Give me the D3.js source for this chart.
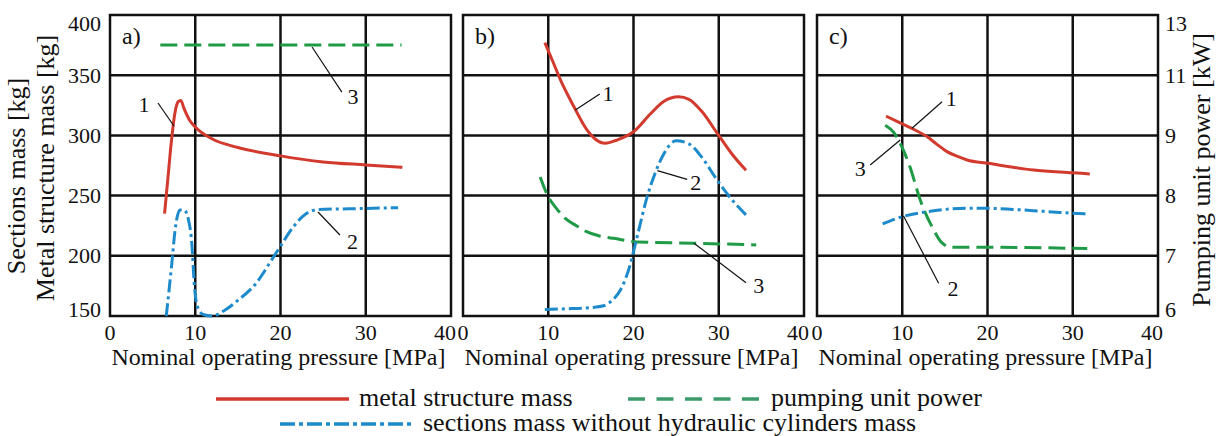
<!DOCTYPE html>
<head>
  <meta charset="utf-8">
  <script src="https://d3js.org/d3.v7.min.js"></script>
  <style>
    body { margin:0; background:#fff; }
    .grid line, .frame { stroke:#111; stroke-width:2.5; fill:none; }
    .curve { fill:none; stroke-width:3; stroke-linecap:butt; }
    .metal { stroke:#d23a2e; }
    .sections { stroke:#1d8bcb; stroke-dasharray:13,4,3,4; }
    .power { stroke:#1f9a46; stroke-dasharray:17,7; }
    .leader { stroke:#111; stroke-width:1.2; }
  </style>
</head>

<body>
  <script>
    var width = 1218;
	var height = 436;

	// axis ticks
	var pressureTicks = [0, 10, 20, 30, 40];
	var massTicks = [150, 200, 250, 300, 350, 400];
	var powerTicks = [6, 7, 8, 9, 11, 13];
	var panelNames = ['a)', 'b)', 'c)'];

	// [pressure MPa, mass kg]
	var metalA = [[6.4,235],[6.8,265],[7.2,295],[7.6,318],[8.0,328],[8.3,329],[8.7,322],[9.3,313],[10,307],[12,297],[15,290],[20,283],[25,278],[30,275.5],[34.3,273.5]];
	var metalB = [[9.6,377],[10.5,362],[11.5,345],[13,324],[14.5,305],[15.5,297],[16.7,293.5],[18,296],[20,303],[22,318],[23.5,328],[25.3,332],[26.5,330],[28,320],[29.8,302],[31.5,285],[33.2,271]];
	var metalC = [[8.1,316],[10,309.5],[11.5,304.5],[12.9,299],[14,293],[15.25,286.5],[16.5,282.5],[17.6,279.6],[20.1,276.8],[25.4,271.3],[30,269],[32,268]];

	var sectionsA = [[6.6,150],[7.2,190],[7.7,225],[8.2,238],[8.7,238],[9.2,230],[9.6,210],[9.9,175],[10.3,157],[11,151],[12,150],[13.5,155],[15,163],[17,176],[19,197],[20,208],[21.5,224],[23,235],[24.5,238.5],[28,239],[33.8,240]];
	var sectionsB = [[9.6,155.5],[12,156],[15,157],[16.5,158.5],[17.5,163],[18.5,172],[19.5,190],[20.5,218],[21.6,249],[22.5,268],[23.5,284],[25,295.5],[26.5,293],[28,282],[29.8,263],[31.5,247],[33.4,232.5]];
	var sectionsC = [[7.7,226.5],[10,232.5],[12.9,236.6],[15,238.5],[17.6,239.4],[20.1,239.4],[23,238.5],[25.4,237.5],[28.5,236],[31.7,234.7]];

	// [pressure MPa, power kW]
	var powerA = [[5.9,12],[34.2,12]];
	var powerB = [[9.05,8.31],[10,7.98],[11,7.78],[12,7.62],[13.3,7.5],[14.5,7.4],[16,7.33],[17.7,7.29],[20.4,7.23],[27,7.21],[34.4,7.18]];
	var powerC = [[8,9.34],[9,9.1],[9.75,8.87],[10.9,8.48],[12.1,7.93],[13.5,7.48],[14.7,7.21],[15.8,7.14],[21.5,7.14],[31.7,7.12]];

	// curve numbers and leader lines, in [MPa, kg]
	var numbersA = [['1',4.0,325.7],['2',28.45,211.9],['3',28.5,332.3]];
	var numbersB = [['1',17.0,334.8],['2',27.3,260.9],['3',34.7,175.7]];
	var numbersC = [['1',15.76,330.6],['2',15.94,172.8],['3',5.06,272.5]];
	var leadersA = [[5.63,326.9,7.5,307.8],[26.97,217.3,24.4,236.4],[27.2,336,23.7,373.4]];
	var leadersB = [[16.04,334.4,13.18,321.1],[26.3,263.5,22.8,270.7],[33.2,177.7,27.1,210.4]];
	var leadersC = [[14.67,328,11.14,305.9],[14.27,177.2,10.15,233.1],[6.24,275.4,9.76,296.2]];

	var panels = [
		{ name: panelNames[0], left: 110, metal: metalA, sections: sectionsA, power: powerA, numbers: numbersA, leaders: leadersA },
		{ name: panelNames[1], left: 463, metal: metalB, sections: sectionsB, power: powerB, numbers: numbersB, leaders: leadersB },
		{ name: panelNames[2], left: 817, metal: metalC, sections: sectionsC, power: powerC, numbers: numbersC, leaders: leadersC }
	];
	var pw = 341;

	var svg = d3.select('body').append('svg')
		.attr('width', width)
		.attr('height', height);

	// serif text helper
	function label(sel, size) {
		return sel.append('text')
			.attr('font-family', 'Liberation Serif')
			.attr('fill', '#111')
			.style('font-size', size + 'px');
	}

	var y = d3.scaleLinear().domain([150, 400]).range([316, 15]);
	// right axis is not linear: each kW tick sits on a mass grid line
	var yPower = d3.scaleLinear().domain(powerTicks).range(massTicks.map(y));

	function tickDy(i, n) {
		if (i == n - 1) return 16;
		if (i == 0) return 1;
		return 7.5;
	}

	panels.forEach(function(p) {
		var x = d3.scaleLinear().domain([0, 40]).range([p.left, p.left + pw]);
		var g = svg.append('g');

		var grid = g.append('g').attr('class', 'grid');
		grid.selectAll('.v').data(pressureTicks.slice(1, -1))
			.enter().append('line')
			.attr('x1', x).attr('x2', x)
			.attr('y1', y(150)).attr('y2', y(400));
		grid.selectAll('.h').data(massTicks.slice(1, -1))
			.enter().append('line')
			.attr('x1', x(0)).attr('x2', x(40))
			.attr('y1', y).attr('y2', y);
		g.append('rect').attr('class', 'frame')
			.attr('x', x(0)).attr('y', y(400))
			.attr('width', x(40) - x(0)).attr('height', y(150) - y(400));

		// x tick labels
		pressureTicks.forEach(function(d, i) {
			label(g, 22)
				.attr('x', x(d) + (i == pressureTicks.length - 1 ? -6 : 0))
				.attr('y', 340)
				.attr('text-anchor', 'middle')
				.text(d);
		});

		label(g, 24)
			.attr('x', (x(0) + x(40)) / 2 - 2)
			.attr('y', 365)
			.attr('text-anchor', 'middle')
			.text('Nominal operating pressure [MPa]');

		label(g, 24)
			.attr('x', p.left + 12)
			.attr('y', 44)
			.text(p.name);

		var lineMass = d3.line()
			.x(function(d) { return x(d[0]); })
			.y(function(d) { return y(d[1]); })
			.curve(d3.curveMonotoneX);
		var linePower = d3.line()
			.x(function(d) { return x(d[0]); })
			.y(function(d) { return yPower(d[1]); })
			.curve(d3.curveMonotoneX);

		g.append('path').attr('class', 'curve power').attr('d', linePower(p.power));
		g.append('path').attr('class', 'curve sections').attr('d', lineMass(p.sections));
		g.append('path').attr('class', 'curve metal').attr('d', lineMass(p.metal));

		g.selectAll('.leader').data(p.leaders)
			.enter().append('line')
			.attr('class', 'leader')
			.attr('x1', function(d) { return x(d[0]); })
			.attr('y1', function(d) { return y(d[1]); })
			.attr('x2', function(d) { return x(d[2]); })
			.attr('y2', function(d) { return y(d[3]); });

		p.numbers.forEach(function(d) {
			label(g, 22)
				.attr('x', x(d[1]))
				.attr('y', y(d[2]) + 7.5)
				.attr('text-anchor', 'middle')
				.text(d[0]);
		});
	});

	// left axis labels
	massTicks.forEach(function(d, i) {
		label(svg, 22)
			.attr('x', 101)
			.attr('y', y(d) + tickDy(i, massTicks.length))
			.attr('text-anchor', 'end')
			.text(d);
	});

	// right axis labels
	powerTicks.forEach(function(d, i) {
		label(svg, 22)
			.attr('x', 1165)
			.attr('y', yPower(d) + tickDy(i, powerTicks.length))
			.text(d);
	});

	label(svg, 26)
		.attr('transform', 'translate(25,176) rotate(-90)')
		.attr('text-anchor', 'middle')
		.text('Sections mass [kg]');
	label(svg, 26)
		.attr('transform', 'translate(54,168) rotate(-90)')
		.attr('text-anchor', 'middle')
		.text('Metal structure mass [kg]');
	label(svg, 26)
		.attr('transform', 'translate(1210,170) rotate(-90)')
		.attr('text-anchor', 'middle')
		.text('Pumping unit power [kW]');

	// legend
	var legend = [
		{ label: 'metal structure mass', x: 216, y: 399, color: '#d23a2e', dash: null },
		{ label: 'pumping unit power', x: 628, y: 399, color: '#3c9a6c', dash: '17,11.5' },
		{ label: 'sections mass without hydraulic cylinders mass', x: 280, y: 424, color: '#1d8bcb', dash: '15,4,4,4' }
	];
	legend.forEach(function(d) {
		svg.append('line')
			.attr('x1', d.x).attr('x2', d.x + 133)
			.attr('y1', d.y).attr('y2', d.y)
			.style('stroke', d.color)
			.style('stroke-width', 3.5)
			.style('stroke-dasharray', d.dash);
		label(svg, 26)
			.attr('x', d.x + 143)
			.attr('y', d.y + 7)
			.text(d.label);
	});
  </script>
</body>
